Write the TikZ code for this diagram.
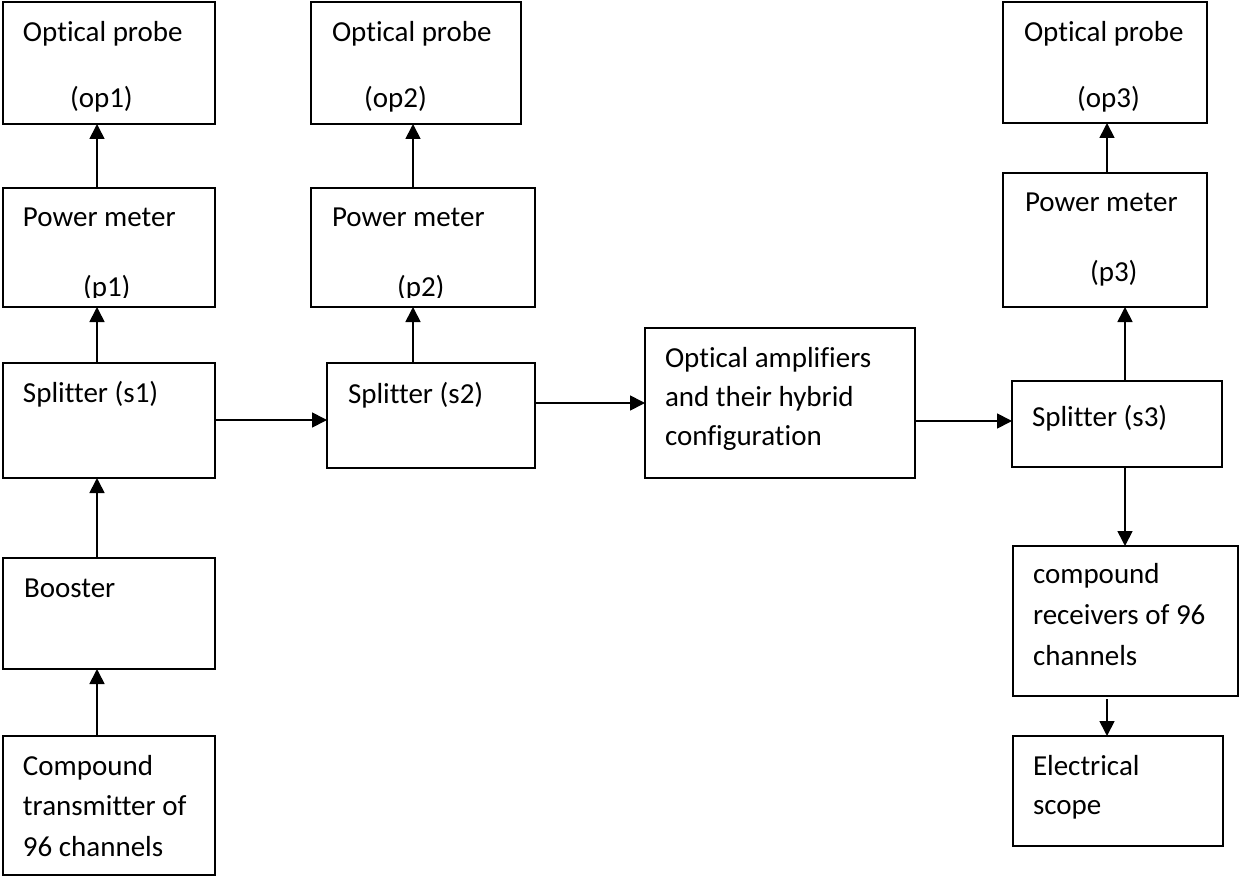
\documentclass[tikz,border=0pt]{standalone}
\usepackage{fontspec}
\setmainfont{Carlito}[Ligatures=NoCommon]
\usetikzlibrary{arrows.meta}
\begin{document}
\begin{tikzpicture}[x=1pt,y=-1pt,
  box/.style={draw=black,line width=1.7pt,inner sep=0pt,outer sep=0pt},
  txt/.style={anchor=base west,inner sep=0pt,outer sep=0pt,font=\fontsize{29pt}{38pt}\selectfont},
  arr/.style={line width=1.7pt,-{Triangle[length=15pt,width=15pt]}}]
\useasboundingbox[fill=white] (0,0) rectangle (1239,877);
% boxes
\node[box,minimum width=212pt,minimum height=122pt] (op1) at (109,63) {};
\node[box,minimum width=212pt,minimum height=119pt] (p1) at (109,247.5) {};
\node[box,minimum width=212pt,minimum height=115pt] (s1) at (109,420.5) {};
\node[box,minimum width=212pt,minimum height=111pt] (boost) at (109,613.5) {};
\node[box,minimum width=212pt,minimum height=139pt] (trans) at (109,805.5) {};
\node[box,minimum width=210pt,minimum height=122pt] (op2) at (416,63) {};
\node[box,minimum width=224pt,minimum height=119pt] (p2) at (423,247.5) {};
\node[box,minimum width=208pt,minimum height=105pt] (s2) at (431,415.5) {};
\node[box,minimum width=270pt,minimum height=150pt] (amp) at (780,403) {};
\node[box,minimum width=204pt,minimum height=121pt] (op3) at (1105,62.5) {};
\node[box,minimum width=204pt,minimum height=134pt] (p3) at (1105,240) {};
\node[box,minimum width=210pt,minimum height=86pt] (s3) at (1117,424) {};
\node[box,minimum width=225pt,minimum height=150pt] (recv) at (1125.5,621) {};
\node[box,minimum width=210pt,minimum height=110pt] (scope) at (1118,791) {};
% texts
\node[txt] (op1a) at (23,42) {Optical probe};
\node[txt] (op1b) at (70,108) {(op1)};
\node[txt] (p1a) at (23,227) {Power meter};
\begin{scope}
\clip (3,188) rectangle (215,297.5);
\node[txt] (p1b) at (83,297) {(p1)};
\end{scope}
\node[txt] (s1a) at (23,402) {Splitter (s1)};
\node[txt] (boosta) at (24,597) {Booster};
\node[txt] (transa) at (23,775) {Compound};
\node[txt] (transb) at (23,815) {transmitter of};
\node[txt] (transc) at (23,856) {96 channels};
\node[txt] (op2a) at (332,42) {Optical probe};
\node[txt] (op2b) at (364,108) {(op2)};
\node[txt] (p2a) at (332,227) {Power meter};
\begin{scope}
\clip (311,188) rectangle (535,297.5);
\node[txt] (p2b) at (397,297) {(p2)};
\end{scope}
\node[txt] (s2a) at (348,403) {Splitter (s2)};
\node[txt] (ampa) at (665,367) {Optical amplifiers};
\node[txt] (ampb) at (665,406) {and their hybrid};
\node[txt] (ampc) at (665,445) {configuration};
\node[txt] (s3a) at (1032,426) {Splitter (s3)};
\node[txt] (op3a) at (1024,42) {Optical probe};
\node[txt] (op3b) at (1077,108) {(op3)};
\node[txt] (p3a) at (1025,212) {Power meter};
\node[txt] (p3b) at (1090,282) {(p3)};
\node[txt] (recva) at (1033,583) {compound};
\node[txt] (recvb) at (1033,624) {receivers of 96};
\node[txt] (recvc) at (1033,665) {channels};
\node[txt] (scopea) at (1033,775) {Electrical};
\node[txt] (scopeb) at (1033,814) {scope};
% connectors
\draw[arr] ([xshift=94pt]trans.north west) -- ([xshift=94pt]boost.south west);
\draw[arr] ([xshift=94pt]boost.north west) -- ([xshift=94pt]s1.south west);
\draw[arr] ([xshift=94pt]s1.north west) -- ([xshift=94pt]p1.south west);
\draw[arr] ([xshift=94pt]p1.north west) -- ([xshift=94pt]op1.south west);
\draw[arr] ([yshift=0.5pt]s1.east) -- ([yshift=0.5pt]s1.east -| s2.west);
\draw[arr] ([xshift=86pt]s2.north west) -- ([xshift=102pt]p2.south west);
\draw[arr] ([xshift=102pt]p2.north west) -- ([xshift=102pt]op2.south west);
\draw[arr] (amp.west -| s2.east) -- (amp.west);
\draw[arr] ([yshift=3pt]s3.west -| amp.east) -- ([yshift=3pt]s3.west);
\draw[arr] ([xshift=113pt]s3.north west) -- ([xshift=122pt]p3.south west);
\draw[arr] ([xshift=104pt]p3.north west) -- ([xshift=104pt]op3.south west);
\draw[arr] ([xshift=113pt]s3.south west) -- ([xshift=112pt]recv.north west);
\draw[arr] ([xshift=94pt,yshift=-3pt]recv.south west) -- ([xshift=94pt]scope.north west);
\end{tikzpicture}
\end{document}
